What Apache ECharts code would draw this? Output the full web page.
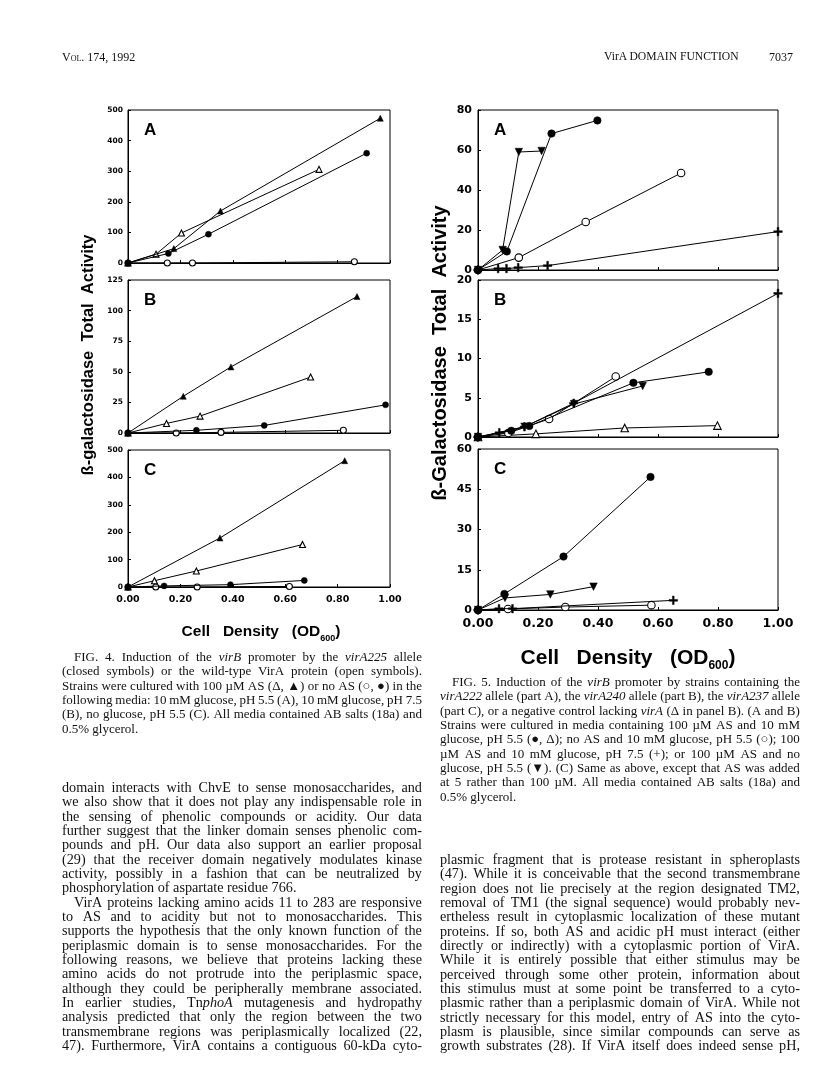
<!DOCTYPE html>
<html>
<head>
<meta charset="utf-8">
<script src="https://cdn.jsdelivr.net/npm/echarts@6/dist/echarts.min.js"></script>
<style>
html,body{margin:0;padding:0;background:#fff;}
#page{position:relative;width:816px;height:1086px;overflow:hidden;background:#fff;}
#chart{position:absolute;left:0;top:0;width:816px;height:1086px;}
.blk{position:absolute;font-family:"Liberation Serif","DejaVu Serif",serif;color:#111;}
.ln{height:14.33px;line-height:14.33px;white-space:nowrap;overflow:visible;}
.jl{display:flex;justify-content:space-between;}
.hd{position:absolute;font-family:"Liberation Serif",serif;color:#111;font-size:12px;white-space:nowrap;}
</style>
</head>
<body>
<div id="page">
  <div id="chart"></div>
  <div class="hd" style="left:62px;top:50px;font-variant:small-caps;">Vol. 174, 1992</div>
  <div class="hd" style="left:604px;top:50px;font-size:11.6px;">VirA DOMAIN FUNCTION</div>
  <div class="hd" style="left:769px;top:50px;">7037</div>
  <div id="cap4" class="blk" style="left:62px;top:650px;width:360px;font-size:13px;"></div>
  <div id="body1" class="blk" style="left:62px;top:780px;width:360px;font-size:14.2px;"></div>
  <div id="cap5" class="blk" style="left:440px;top:675px;width:360px;font-size:13px;"></div>
  <div id="body2" class="blk" style="left:440px;top:852px;width:360px;font-size:14.2px;"></div>
</div>
<script>
// ---------------- DATA ----------------
const odTicks = [0.00, 0.20, 0.40, 0.60, 0.80, 1.00];

// Fig. 4 (virA225 closed symbols, wild type open symbols)
const f4A_closedTri  = [[0,0],[0.175,47],[0.353,170],[0.963,473]];
const f4A_openTri    = [[0,0],[0.107,29],[0.204,98],[0.729,306]];
const f4A_closedCirc = [[0,0],[0.154,31],[0.307,94],[0.911,359]];
const f4A_openCirc   = [[0,0],[0.150,0],[0.246,0],[0.864,4]];

const f4B_closedTri  = [[0,0],[0.211,30],[0.393,54],[0.874,111.5]];
const f4B_openTri    = [[0,0],[0.147,7.8],[0.275,13.8],[0.697,45.7]];
const f4B_closedCirc = [[0,0],[0.261,2.2],[0.520,6.2],[0.983,23]];
const f4B_openCirc   = [[0,0],[0.184,0],[0.355,0.5],[0.822,2.2]];

const f4C_closedTri  = [[0,0],[0.351,179],[0.827,461]];
const f4C_openTri    = [[0,0],[0.101,23],[0.261,58.5],[0.666,155]];
const f4C_closedCirc = [[0,0],[0.138,4],[0.391,8.5],[0.673,24]];
const f4C_openCirc   = [[0,0],[0.106,0],[0.264,0],[0.616,2]];

// Fig. 5
const f5A_closedCirc = [[0,0],[0.096,9.3],[0.245,68.2],[0.398,74.8]];
const f5A_downTri    = [[0,0],[0.082,10],[0.136,59],[0.212,59.5]];
const f5A_openCirc   = [[0,0],[0.136,6.2],[0.359,24],[0.677,48.5]];
const f5A_plus       = [[0,0],[0.067,0.7],[0.095,0.7],[0.134,1.2],[0.232,2.2],[1.0,19.2]];

const f5B_plus       = [[0,0],[0.071,0.55],[0.155,1.3],[0.319,4.3],[1.0,18.3]];
const f5B_openCirc   = [[0,0],[0.101,0.5],[0.237,2.3],[0.459,7.7]];
const f5B_closedCirc = [[0,0],[0.111,0.8],[0.171,1.4],[0.518,6.9],[0.769,8.3]];
const f5B_downTri    = [[0,0],[0.155,1.3],[0.320,4.2],[0.549,6.5]];
const f5B_openTri    = [[0,0],[0.193,0.4],[0.489,1.15],[0.798,1.45]];

const f5C_closedCirc = [[0,0],[0.088,6],[0.285,19.9],[0.575,49.6]];
const f5C_downTri    = [[0,0],[0.090,4.5],[0.241,5.8],[0.385,8.7]];
const f5C_plus       = [[0,0],[0.070,0.5],[0.115,0.5],[0.651,3.6]];
const f5C_openCirc   = [[0,0],[0.100,0.4],[0.291,1.1],[0.578,1.8]];

const f4_yMax = [500, 125, 500];
const f4_yStep = [100, 25, 100];
const f5_yMax = [80, 20, 60];
const f5_yStep = [20, 5, 15];

const panelLetters = ['A','B','C'];
const f4_yTitle = 'ß-galactosidase  Total  Activity';
const f5_yTitle = 'ß-Galactosidase  Total  Activity';
const xTitleMain = 'Cell   Density   (OD';
const xTitleSub = '600';

// ---------------- LAYOUT ----------------
const grids = [
  {left:128, top:110, width:262, height:153},
  {left:128, top:280, width:262, height:153},
  {left:128, top:450, width:262, height:137},
  {left:478, top:110, width:300, height:160},
  {left:478, top:280, width:300, height:157},
  {left:478, top:449, width:300, height:161}
];

const PLUS = 'path://M4,0L6,0L6,4L10,4L10,6L6,6L6,10L4,10L4,6L0,6L0,4L4,4Z';
const kinds = {
  openCirc:   {symbol:'circle', fill:'#fff'},
  openTri:    {symbol:'triangle', fill:'#fff'},
  plus:       {symbol:PLUS, fill:'#000'},
  downTri:    {symbol:'triangle', fill:'#000', rotate:180},
  closedCirc: {symbol:'circle', fill:'#000'},
  closedTri:  {symbol:'triangle', fill:'#000'}
};

function mkSeries(gi, data, kind, size){
  const k = kinds[kind];
  return {
    type:'line', xAxisIndex:gi, yAxisIndex:gi, data:data,
    symbol:k.symbol, symbolSize: kind==='plus' ? size+1 : size,
    symbolRotate:k.rotate||0, showSymbol:true, silent:true,
    lineStyle:{color:'#000', width:1},
    itemStyle:{color:k.fill, borderColor:'#000', borderWidth: k.fill==='#fff'?1.1:0.5},
    z: k.fill==='#fff' ? 2 : 3,
    animation:false
  };
}

const xAxes = [], yAxes = [], series = [];
grids.forEach((g, i) => {
  const isF5 = i >= 3;
  const bottom = (i === 2 || i === 5);
  const p = i % 3;
  xAxes.push({
    type:'value', gridIndex:i, min:0, max:1, interval:0.2,
    axisLine:{show:true, lineStyle:{color:'#000', width:1}},
    axisTick:{show:true, inside:true, length:3, lineStyle:{color:'#000'}},
    splitLine:{show:false},
    axisLabel:{show:bottom, margin: isF5 ? 7 : 8, color:'#000',
      fontFamily:'DejaVu Sans', fontWeight:'bold', fontSize: isF5 ? 12.5 : 9.5,
      formatter: v => v.toFixed(2)}
  });
  const ymax = isF5 ? f5_yMax[p] : f4_yMax[p];
  const ystep = isF5 ? f5_yStep[p] : f4_yStep[p];
  yAxes.push({
    type:'value', gridIndex:i, min:0, max:ymax, interval:ystep,
    axisLine:{show:true, lineStyle:{color:'#000', width:1}},
    axisTick:{show:true, inside:true, length:3, lineStyle:{color:'#000'}},
    splitLine:{show:false},
    axisLabel:{show:true, margin: isF5 ? 6 : 5, color:'#000',
      fontFamily:'DejaVu Sans', fontWeight:'bold', fontSize: isF5 ? 11 : 7.5}
  });
});

const s4 = 6, s5 = 7.5;
[[f4A_openCirc,'openCirc'],[f4A_openTri,'openTri'],[f4A_closedCirc,'closedCirc'],[f4A_closedTri,'closedTri']]
  .forEach(d => series.push(mkSeries(0, d[0], d[1], s4)));
[[f4B_openCirc,'openCirc'],[f4B_openTri,'openTri'],[f4B_closedCirc,'closedCirc'],[f4B_closedTri,'closedTri']]
  .forEach(d => series.push(mkSeries(1, d[0], d[1], s4)));
[[f4C_openCirc,'openCirc'],[f4C_openTri,'openTri'],[f4C_closedCirc,'closedCirc'],[f4C_closedTri,'closedTri']]
  .forEach(d => series.push(mkSeries(2, d[0], d[1], s4)));
[[f5A_openCirc,'openCirc'],[f5A_plus,'plus'],[f5A_downTri,'downTri'],[f5A_closedCirc,'closedCirc']]
  .forEach(d => series.push(mkSeries(3, d[0], d[1], s5)));
[[f5B_openTri,'openTri'],[f5B_openCirc,'openCirc'],[f5B_plus,'plus'],[f5B_downTri,'downTri'],[f5B_closedCirc,'closedCirc']]
  .forEach(d => series.push(mkSeries(4, d[0], d[1], s5)));
[[f5C_openCirc,'openCirc'],[f5C_plus,'plus'],[f5C_downTri,'downTri'],[f5C_closedCirc,'closedCirc']]
  .forEach(d => series.push(mkSeries(5, d[0], d[1], s5)));

const bold = (sz) => 'bold ' + sz + 'px "Liberation Sans", Arial, sans-serif';
const graphics = [];
grids.forEach((g, i) => {
  graphics.push({type:'text', left: g.left + 16, top: g.top + 12,
    style:{text: panelLetters[i % 3], font: bold(17), fill:'#000'}});
});
graphics.push({type:'text', x:88, y:355, rotation:Math.PI/2,
  style:{text:f4_yTitle, font:bold(16.5), fill:'#000', align:'center', verticalAlign:'middle'}});
graphics.push({type:'text', x:440, y:353, rotation:Math.PI/2,
  style:{text:f5_yTitle, font:bold(20), fill:'#000', align:'center', verticalAlign:'middle'}});
function xTitle(cx, cy, fs){
  return {type:'text', x:cx, y:cy,
    style:{text:'{a|' + xTitleMain + '}{s|' + xTitleSub + '}{a|)}', align:'center', verticalAlign:'middle',
      rich:{
        a:{font:bold(fs), fill:'#000', lineHeight:fs+6, verticalAlign:'middle'},
        s:{font:bold(Math.round(fs*0.55)), fill:'#000', lineHeight:Math.round(fs*0.7), verticalAlign:'bottom'}
      }}};
}
graphics.push(xTitle(261, 632, 15.5));
graphics.push(xTitle(628, 658, 21));

const chart = echarts.init(document.getElementById('chart'), null, {renderer:'canvas'});
chart.setOption({
  animation:false,
  backgroundColor:'transparent',
  grid: grids.map(g => Object.assign({show:true, borderColor:'#000', borderWidth:1, containLabel:false}, g)),
  xAxis: xAxes, yAxis: yAxes, series: series, graphic: graphics
});

// ---------------- TEXT ----------------
// '>' = paragraph indent, '|' at end = not justified (last line)
const cap4Lines = [
  '>FIG. 4. Induction of the <i>virB</i> promoter by the <i>virA225</i> allele',
  '(closed symbols) or the wild-type VirA protein (open symbols).',
  'Strains were cultured with 100 µM AS (Δ, ▲) or no AS (○, ●) in the',
  'following media: 10 mM glucose, pH 5.5 (A), 10 mM glucose, pH 7.5',
  '(B), no glucose, pH 5.5 (C). All media contained AB salts (18a) and',
  '0.5% glycerol.|'
];
const body1Lines = [
  'domain interacts with ChvE to sense monosaccharides, and',
  'we also show that it does not play any indispensable role in',
  'the sensing of phenolic compounds or acidity. Our data',
  'further suggest that the linker domain senses phenolic com-',
  'pounds and pH. Our data also support an earlier proposal',
  '(29) that the receiver domain negatively modulates kinase',
  'activity, possibly in a fashion that can be neutralized by',
  'phosphorylation of aspartate residue 766.|',
  '>VirA proteins lacking amino acids 11 to 283 are responsive',
  'to AS and to acidity but not to monosaccharides. This',
  'supports the hypothesis that the only known function of the',
  'periplasmic domain is to sense monosaccharides. For the',
  'following reasons, we believe that proteins lacking these',
  'amino acids do not protrude into the periplasmic space,',
  'although they could be peripherally membrane associated.',
  'In earlier studies, Tn<i>phoA</i> mutagenesis and hydropathy',
  'analysis predicted that only the region between the two',
  'transmembrane regions was periplasmically localized (22,',
  '47). Furthermore, VirA contains a contiguous 60-kDa cyto-'
];
const cap5Lines = [
  '>FIG. 5. Induction of the <i>virB</i> promoter by strains containing the',
  '<i>virA222</i> allele (part A), the <i>virA240</i> allele (part B), the <i>virA237</i> allele',
  '(part C), or a negative control lacking <i>virA</i> (Δ in panel B). (A and B)',
  'Strains were cultured in media containing 100 µM AS and 10 mM',
  'glucose, pH 5.5 (●, Δ); no AS and 10 mM glucose, pH 5.5 (○); 100',
  'µM AS and 10 mM glucose, pH 7.5 (+); or 100 µM AS and no',
  'glucose, pH 5.5 (▼). (C) Same as above, except that AS was added',
  'at 5 rather than 100 µM. All media contained AB salts (18a) and',
  '0.5% glycerol.|'
];
const body2Lines = [
  'plasmic fragment that is protease resistant in spheroplasts',
  '(47). While it is conceivable that the second transmembrane',
  'region does not lie precisely at the region designated TM2,',
  'removal of TM1 (the signal sequence) would probably nev-',
  'ertheless result in cytoplasmic localization of these mutant',
  'proteins. If so, both AS and acidic pH must interact (either',
  'directly or indirectly) with a cytoplasmic portion of VirA.',
  'While it is entirely possible that either stimulus may be',
  'perceived through some other protein, information about',
  'this stimulus must at some point be transferred to a cyto-',
  'plasmic rather than a periplasmic domain of VirA. While not',
  'strictly necessary for this model, entry of AS into the cyto-',
  'plasm is plausible, since similar compounds can serve as',
  'growth substrates (28). If VirA itself does indeed sense pH,'
];

function build(id, lines){
  const el = document.getElementById(id);
  const baseFs = parseFloat(el.style.fontSize);
  lines.forEach(raw => {
    let t = raw, indent = false, last = false;
    if (t.charAt(0) === '>') { indent = true; t = t.slice(1); }
    if (t.slice(-1) === '|') { last = true; t = t.slice(0, -1); }
    const d = document.createElement('div');
    d.className = 'ln' + (last ? '' : ' jl');
    if (indent) d.style.paddingLeft = '12px';
    if (last) { d.innerHTML = t; el.appendChild(d); return; }
    const words = t.split(' ');
    words.forEach(w => {
      const s = document.createElement('span');
      s.innerHTML = w;
      d.appendChild(s);
    });
    el.appendChild(d);
    // shrink a line whose words (with a minimal space) do not fit
    let fs = baseFs;
    const avail = el.clientWidth - (indent ? 12 : 0);
    const need = () => {
      let w = 0; d.querySelectorAll('span').forEach(s => w += s.getBoundingClientRect().width);
      return w + (words.length - 1) * fs * 0.2;
    };
    while (need() > avail && fs > baseFs * 0.8) { fs -= 0.2; d.style.fontSize = fs + 'px'; }
  });
}
build('cap4', cap4Lines);
build('body1', body1Lines);
build('cap5', cap5Lines);
build('body2', body2Lines);
</script>
</body>
</html>
